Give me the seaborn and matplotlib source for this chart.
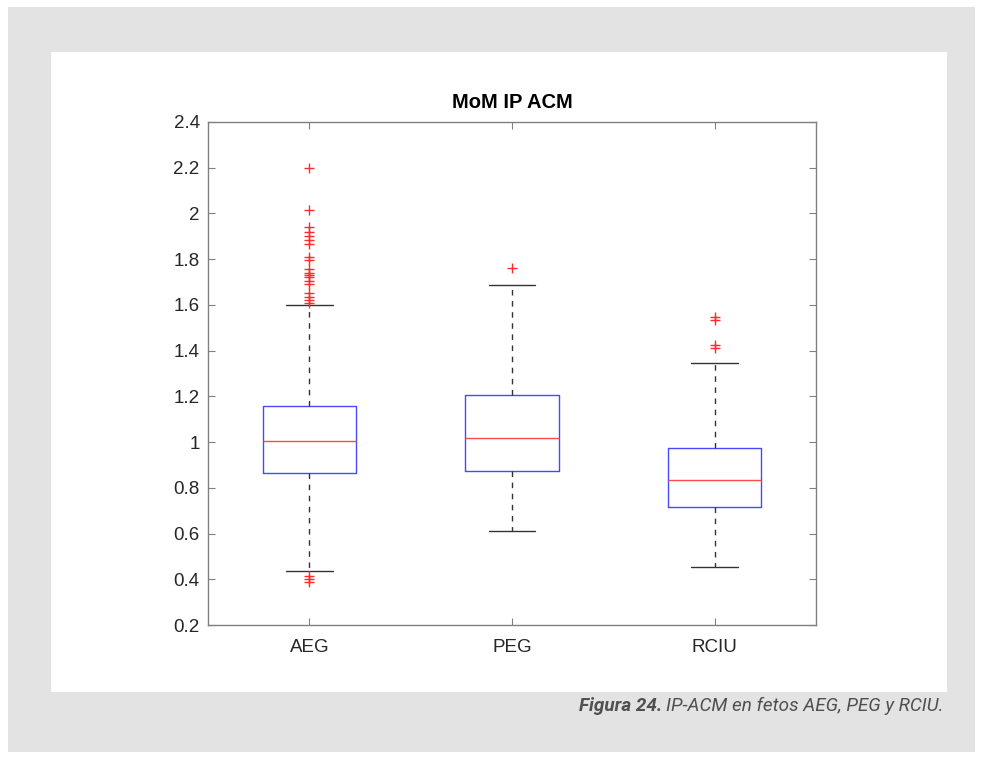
import matplotlib
matplotlib.use("Agg")
import matplotlib.pyplot as plt
import matplotlib.patches as mpatches
from matplotlib import font_manager
import seaborn as sns
import pandas as pd

# ---- data ----
groups = ["AEG", "PEG", "RCIU"]
whisker_low = [0.435, 0.61, 0.455]
q1 = [0.865, 0.875, 0.715]
median = [1.003, 1.02, 0.835]
q3 = [1.158, 1.205, 0.975]
whisker_high = [1.600, 1.685, 1.347]
outliers_aeg = [2.20, 2.015, 1.94, 1.92, 1.90, 1.885, 1.865, 1.81, 1.795,
                1.755, 1.74, 1.73, 1.72, 1.705, 1.69, 1.65, 1.635, 1.62, 1.61,
                0.415, 0.40, 0.39]
outliers_peg = [1.76]
outliers_rciu = [1.545, 1.535, 1.425, 1.41]
yticks = [0.2, 0.4, 0.6, 0.8, 1.0, 1.2, 1.4, 1.6, 1.8, 2.0, 2.2, 2.4]
ytick_labels = ["0.2", "0.4", "0.6", "0.8", "1", "1.2", "1.4", "1.6", "1.8", "2", "2.2", "2.4"]
title = "MoM IP ACM"
caption_bold = "Figura 24."
caption_rest = "IP-ACM en fetos AEG, PEG y RCIU."

sns.set_style("white")
plt.rcParams["font.family"] = ["Liberation Sans", "DejaVu Sans"]

installed = {f.name for f in font_manager.fontManager.ttflist}
cap_family = "Roboto" if "Roboto" in installed else "DejaVu Sans"

fig = plt.figure(figsize=(9.83, 7.59), dpi=100)
fig.patch.set_facecolor("white")

# gray background card and white panel
W, H = 983, 759
fig.add_artist(mpatches.Rectangle((8 / W, 1 - 752 / H), (975 - 8) / W, (752 - 7) / H,
                                  transform=fig.transFigure, facecolor="#e2e3e2",
                                  edgecolor="none", zorder=-2))
fig.add_artist(mpatches.Rectangle((51 / W, 1 - 692 / H), (947 - 51) / W, (692 - 52) / H,
                                  transform=fig.transFigure, facecolor="white",
                                  edgecolor="none", zorder=-1))

ax = fig.add_axes([208 / W, 1 - 625 / H, (816 - 208) / W, (625 - 122) / H])
ax.set_zorder(2)
ax.set_facecolor("white")

stats = []
for i, g in enumerate(groups):
    stats.append(dict(label=g, whislo=whisker_low[i], q1=q1[i], med=median[i],
                      q3=q3[i], whishi=whisker_high[i], fliers=[]))

positions = [1, 2, 3]
ax.bxp(stats, positions=positions, widths=0.46, capwidths=0.23, showfliers=False,
       boxprops=dict(color="#4848ff", linewidth=1.0),
       medianprops=dict(color="#ff4848", linewidth=1.0),
       whiskerprops=dict(color="#333333", linestyle=(0, (4, 4)), linewidth=1.0),
       capprops=dict(color="#333333", linewidth=1.0))

out_df = pd.DataFrame({
    "pos": [1] * len(outliers_aeg) + [2] * len(outliers_peg) + [3] * len(outliers_rciu),
    "val": outliers_aeg + outliers_peg + outliers_rciu,
})
sns.scatterplot(data=out_df, x="pos", y="val", marker="+", color="#ff2a2a",
                s=45, linewidth=1.0, ax=ax, zorder=5)

ax.set_xlim(0.5, 3.5)
ax.set_ylim(0.2, 2.4)
ax.set_xticks(positions)
ax.set_xticklabels(groups)
ax.set_yticks(yticks)
ax.set_yticklabels(ytick_labels)
ax.set_xlabel("")
ax.set_ylabel("")
ax.tick_params(direction="in", length=5, width=0.8, color="#808080",
               labelsize=13.5, labelcolor="#262626", top=True, right=True,
               left=True, bottom=True)
ax.tick_params(axis="y", pad=6)
ax.tick_params(axis="x", pad=10)
for sp in ax.spines.values():
    sp.set_visible(True)
    sp.set_color("#808080")
    sp.set_linewidth(1.0)
ax.set_title(title, fontsize=14.5, fontweight="bold", color="black", pad=10)

# caption
cap_y = 1 - 711 / H
t2 = fig.text(944 / W, cap_y, caption_rest, ha="right", va="baseline", fontsize=13.6,
              style="italic", color="#505050", family=[cap_family, "DejaVu Sans"])
fig.canvas.draw()
bb = t2.get_window_extent()
fig.text((bb.x0 - 4) / W, cap_y, caption_bold, ha="right", va="baseline", fontsize=13.6,
         style="italic", fontweight="bold", color="#505050",
         family=[cap_family, "DejaVu Sans"])

fig.savefig("out.png", dpi=100)
